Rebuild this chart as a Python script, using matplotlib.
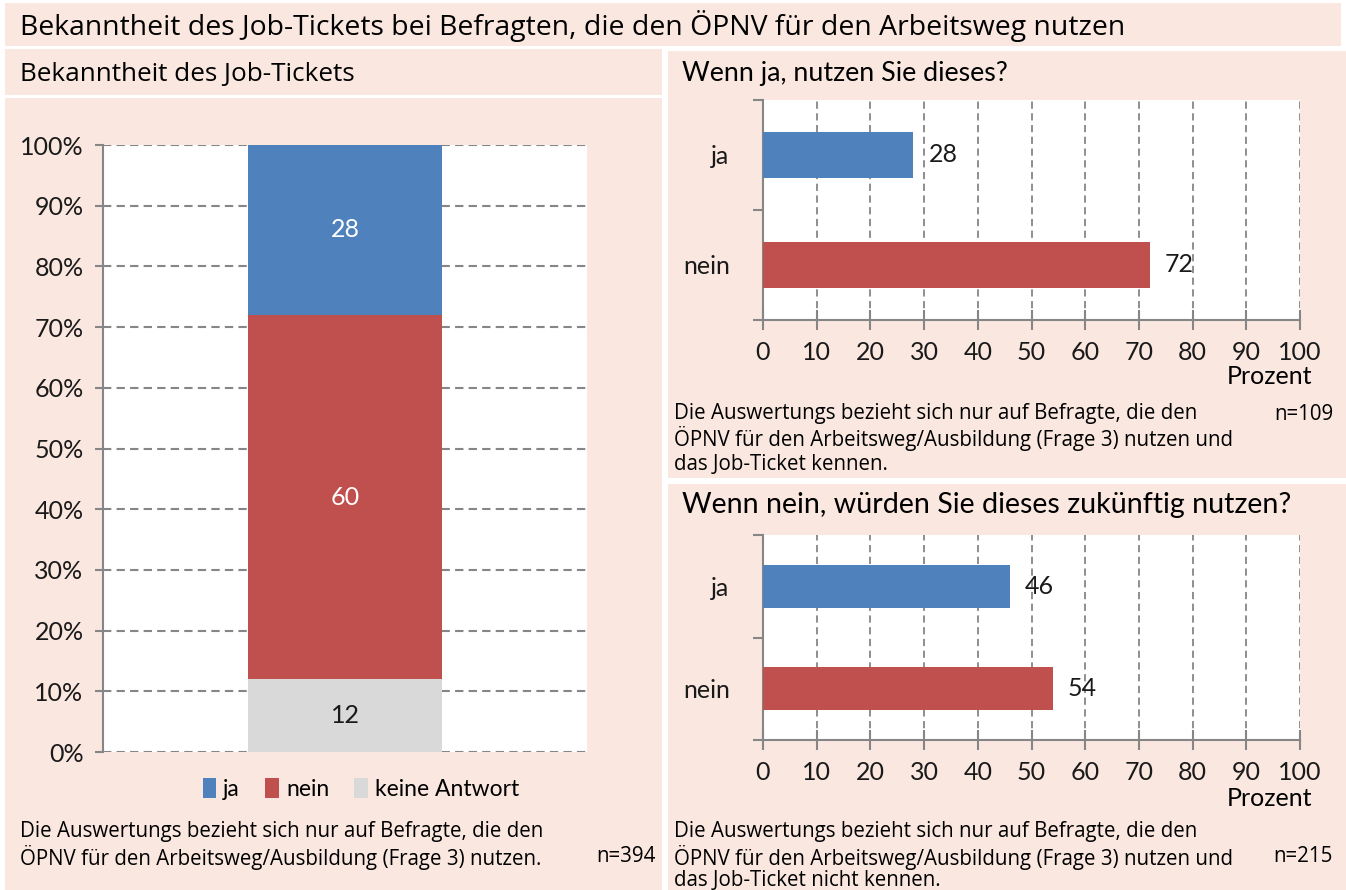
import matplotlib
matplotlib.use("Agg")
import matplotlib.pyplot as plt
from matplotlib.patches import Rectangle, Patch

# ----------------------------------------------------------------------
# Data
# ----------------------------------------------------------------------
stack_labels = ["ja", "nein", "keine Antwort"]
stack_values = [28, 60, 12]          # Bekanntheit des Job-Tickets, n=394

q1_cats = ["ja", "nein"]
q1_values = [28, 72]                 # Wenn ja, nutzen Sie dieses? n=109

q2_cats = ["ja", "nein"]
q2_values = [46, 54]                 # Wenn nein, zukünftig nutzen? n=215

y_ticks_pct = list(range(0, 101, 10))
x_ticks_pct = list(range(0, 101, 10))

# ----------------------------------------------------------------------
# Style
# ----------------------------------------------------------------------
W, H = 1346, 890
PINK = "#F9E7E0"
BLUE = "#4F81BD"
RED = "#C0504D"
GREY = "#D9D9D9"
AXC = "#868686"
CHART_FONT = ["Lato", "DejaVu Sans"]
TEXT_FONT = ["Open Sans", "DejaVu Sans"]
CS = 18       # chart font size
FS = 14.8     # footnote font size

plt.rcParams["font.family"] = CHART_FONT
colors = [BLUE, RED, GREY]


def rect(x0, y0, x1, y1):
    """pixel box (top-left origin) -> figure fraction [l, b, w, h]"""
    return [x0 / W, 1 - y1 / H, (x1 - x0) / W, (y1 - y0) / H]


def fx(x):
    return x / W


def fy(y):
    return 1 - y / H


fig = plt.figure(figsize=(W / 100, H / 100), dpi=100, facecolor="white")

# background panels
for x0, y0, x1, y1 in [(5, 3, 1341, 46), (5, 49, 662, 95), (5, 98, 662, 890),
                       (668, 51, 1346, 478), (668, 484, 1346, 890)]:
    fig.patches.append(Rectangle((fx(x0), fy(y1)), (x1 - x0) / W, (y1 - y0) / H,
                                 transform=fig.transFigure, facecolor=PINK,
                                 edgecolor="none", zorder=-10))

fig.text(fx(20), fy(26), "Bekanntheit des Job-Tickets bei Befragten, die den ÖPNV für den Arbeitsweg nutzen",
         family=TEXT_FONT, fontsize=20.4, va="center", ha="left")
fig.text(fx(20), fy(75), "Bekanntheit des Job-Tickets",
         family=TEXT_FONT, fontsize=18.8, va="center", ha="left")

# ----------------------------------------------------------------------
# Left: stacked column
# ----------------------------------------------------------------------
ax = fig.add_axes(rect(103, 145, 587, 752))
bottom = 0
for lab, val, col in zip(stack_labels[::-1], stack_values[::-1], colors[::-1]):
    ax.bar(0, val, bottom=bottom, width=1, color=col, label=lab, zorder=3)
    ax.text(0, bottom + val / 2, str(val), ha="center", va="center",
            color="white" if col != GREY else "#1a1a1a", fontsize=CS, zorder=4)
    bottom += val
ax.set_xlim(-1.25, 1.25)
ax.set_ylim(0, 100)
ax.set_yticks(y_ticks_pct)
ax.set_yticklabels([f"{t}%" for t in y_ticks_pct], fontsize=CS, color="#1a1a1a")
ax.set_xticks([])
ax.yaxis.grid(True, color=AXC, linestyle=(0, (4, 2.5)), linewidth=1.5, zorder=1)
ax.set_axisbelow(True)
for s in ["top", "right", "bottom"]:
    ax.spines[s].set_visible(False)
ax.spines["left"].set_color(AXC)
ax.spines["left"].set_linewidth(1.5)
ax.tick_params(axis="y", color=AXC, length=6, width=1.5, pad=8)
ax.set_facecolor("white")

handles = [Patch(facecolor=c, edgecolor="none") for c in colors]
fig.legend(handles, stack_labels, loc="center", bbox_to_anchor=(fx(361), fy(789)),
           ncol=3, frameon=False, fontsize=16.5, handlelength=0.6, handleheight=0.95,
           handletextpad=0.3, columnspacing=1.1)

fig.text(fx(20), fy(832), "Die Auswertungs bezieht sich nur auf Befragte, die den",
         family=TEXT_FONT, fontsize=FS, va="center")
fig.text(fx(20), fy(857), "ÖPNV für den Arbeitsweg/Ausbildung (Frage 3) nutzen.",
         family=TEXT_FONT, fontsize=FS, va="center")
fig.text(fx(656), fy(857), "n=394", family=TEXT_FONT, fontsize=FS, va="center", ha="right")


# ----------------------------------------------------------------------
# Right: two horizontal bar charts
# ----------------------------------------------------------------------
def hbar(box, cats, vals, bar_h):
    a = fig.add_axes(rect(*box))
    ypos = list(range(len(cats)))[::-1]
    a.barh(ypos, vals, height=bar_h, color=[BLUE, RED], zorder=3)
    for y, v in zip(ypos, vals):
        a.text(v + 2.8, y, str(v), va="center", ha="left", fontsize=CS, color="#1a1a1a", zorder=4)
    a.set_xlim(0, 100)
    a.set_ylim(-0.5, len(cats) - 0.5)
    a.set_xticks(x_ticks_pct)
    a.set_xticklabels([str(t) for t in x_ticks_pct], fontsize=CS, color="#1a1a1a")
    a.set_yticks(ypos)
    a.set_yticklabels(cats, fontsize=CS, color="#1a1a1a")
    a.set_yticks([-0.5, 0.5, 1.5], minor=True)
    a.tick_params(axis="y", which="major", length=0, pad=24)
    a.tick_params(axis="y", which="minor", length=7, width=1.5, color=AXC)
    a.tick_params(axis="x", direction="inout", length=14, width=1.5, color=AXC, pad=8)
    a.xaxis.grid(True, color=AXC, linestyle=(0, (4, 2.5)), linewidth=1.3, zorder=1)
    a.set_axisbelow(True)
    for s in ["top", "right"]:
        a.spines[s].set_visible(False)
    for s in ["left", "bottom"]:
        a.spines[s].set_color(AXC)
        a.spines[s].set_linewidth(1.5)
    a.set_facecolor("white")
    return a


hbar((763, 100, 1300, 320), q1_cats, q1_values, 0.41)
fig.text(fx(682), fy(73), "Wenn ja, nutzen Sie dieses?", fontsize=19.3, va="center")
fig.text(fx(1312), fy(377), "Prozent", fontsize=CS, va="center", ha="right")
fig.text(fx(674), fy(414), "Die Auswertungs bezieht sich nur auf Befragte, die den",
         family=TEXT_FONT, fontsize=FS, va="center")
fig.text(fx(674), fy(439), "ÖPNV für den Arbeitsweg/Ausbildung (Frage 3) nutzen und",
         family=TEXT_FONT, fontsize=FS, va="center")
fig.text(fx(674), fy(464), "das Job-Ticket kennen.",
         family=TEXT_FONT, fontsize=FS, va="center")
fig.text(fx(1333), fy(414), "n=109", family=TEXT_FONT, fontsize=FS, va="center", ha="right")

hbar((763, 535, 1300, 740), q2_cats, q2_values, 0.42)
fig.text(fx(682), fy(505), "Wenn nein, würden Sie dieses zukünftig nutzen?", fontsize=20.6, va="center")
fig.text(fx(1312), fy(798), "Prozent", fontsize=CS, va="center", ha="right")
fig.text(fx(674), fy(832), "Die Auswertungs bezieht sich nur auf Befragte, die den",
         family=TEXT_FONT, fontsize=FS, va="center")
fig.text(fx(674), fy(857), "ÖPNV für den Arbeitsweg/Ausbildung (Frage 3) nutzen und",
         family=TEXT_FONT, fontsize=FS, va="center")
fig.text(fx(674), fy(880), "das Job-Ticket nicht kennen.",
         family=TEXT_FONT, fontsize=FS, va="center")
fig.text(fx(1333), fy(857), "n=215", family=TEXT_FONT, fontsize=FS, va="center", ha="right")

fig.savefig("out.png", dpi=100, facecolor="white")
